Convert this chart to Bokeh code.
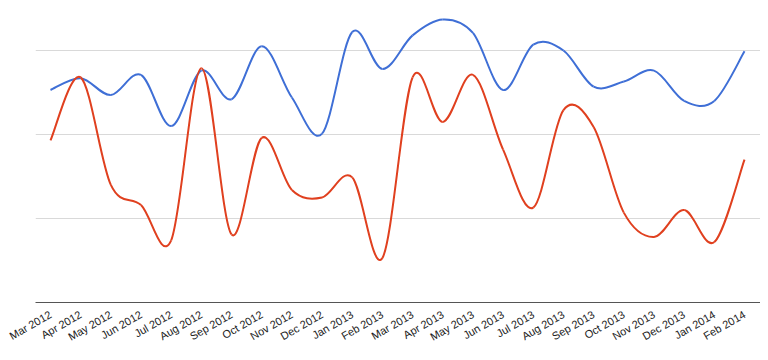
import numpy as np
from bokeh.plotting import figure
from bokeh.models import FixedTicker, Range1d, ColumnDataSource
from bokeh.embed import file_html
from bokeh.resources import INLINE

months = ["Mar 2012", "Apr 2012", "May 2012", "Jun 2012", "Jul 2012", "Aug 2012",
          "Sep 2012", "Oct 2012", "Nov 2012", "Dec 2012", "Jan 2013", "Feb 2013",
          "Mar 2013", "Apr 2013", "May 2013", "Jun 2013", "Jul 2013", "Aug 2013",
          "Sep 2013", "Oct 2013", "Nov 2013", "Dec 2013", "Jan 2014", "Feb 2014"]

blue_values = [253, 267, 247, 271, 210, 276, 242, 305, 244, 201, 322, 278,
               318, 337, 321, 253, 307, 300, 257, 263, 276, 240, 240, 299]

red_values = [193, 268, 140, 116, 74, 279, 81, 196, 134, 125, 149, 53,
              268, 215, 271, 182, 113, 229, 209, 107, 78, 110, 72, 170]

grid_values = [100, 200, 300]

BLUE = "#3f6fd6"
RED = "#e0401f"


def bezier_source(vals):
    y = np.asarray(vals, dtype=float)
    x = np.arange(len(y), dtype=float)
    n = len(y)
    t = 1.0 / 6.0
    xp = np.concatenate([[x[0]], x, [x[-1]]])
    yp = np.concatenate([[y[0]], y, [y[-1]]])
    x0 = x[:-1]; y0 = y[:-1]; x1 = x[1:]; y1 = y[1:]
    cx0 = x0 + (xp[2:n + 1] - xp[0:n - 1]) * t
    cy0 = y0 + (yp[2:n + 1] - yp[0:n - 1]) * t
    cx1 = x1 - (xp[3:n + 2] - xp[1:n]) * t
    cy1 = y1 - (yp[3:n + 2] - yp[1:n]) * t
    return ColumnDataSource(dict(x0=x0, y0=y0, x1=x1, y1=y1,
                                 cx0=cx0, cy0=cy0, cx1=cx1, cy1=cy1))


p = figure(width=760, height=352, output_backend="svg", toolbar_location=None,
           x_range=Range1d(-0.497, 23.53), y_range=Range1d(0, 350),
           min_border_left=35, min_border_right=0, min_border_top=8,
           min_border_bottom=50)
p.outline_line_color = None
p.yaxis.visible = False
p.xgrid.visible = False
p.ygrid.ticker = FixedTicker(ticks=grid_values)
p.ygrid.grid_line_color = "#d9d9d9"
p.ygrid.grid_line_width = 1

for vals, col in ((blue_values, BLUE), (red_values, RED)):
    src = bezier_source(vals)
    p.bezier(x0="x0", y0="y0", x1="x1", y1="y1", cx0="cx0", cy0="cy0",
             cx1="cx1", cy1="cy1", source=src, line_color=col, line_width=2)

ax = p.xaxis[0]
ax.ticker = FixedTicker(ticks=list(range(len(months))))
ax.major_label_overrides = {i: m for i, m in enumerate(months)}
ax.major_label_orientation = np.deg2rad(30)
ax.major_tick_line_color = None
ax.minor_tick_line_color = None
ax.major_tick_out = 0
ax.major_label_standoff = 11
ax.axis_line_color = "#555555"
ax.major_label_text_font = "Liberation Sans"
ax.major_label_text_font_size = "11px"
ax.major_label_text_color = "#222222"

open("out.html", "w").write(file_html(p, INLINE))
